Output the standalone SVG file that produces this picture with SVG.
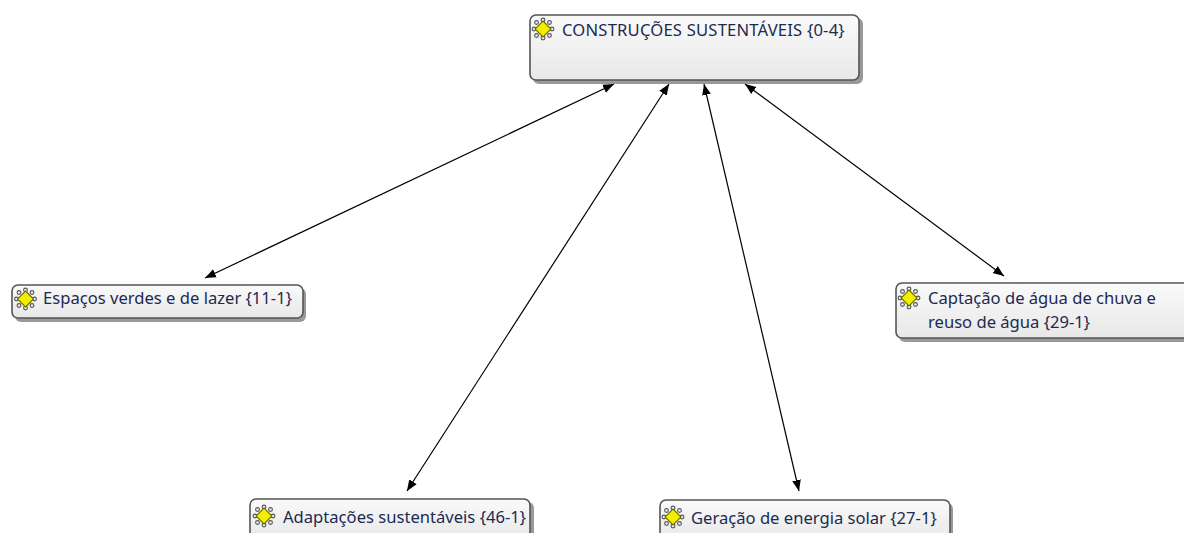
<svg xmlns="http://www.w3.org/2000/svg" width="1184" height="533" viewBox="0 0 1184 533">
<defs>
<linearGradient id="g" x1="0" y1="0" x2="0" y2="1">
<stop offset="0" stop-color="#fafafa"/>
<stop offset="1" stop-color="#e8e8e8"/>
</linearGradient>
<marker id="ah" viewBox="0 0 10 10" refX="10" refY="5" markerWidth="11" markerHeight="11" markerUnits="userSpaceOnUse" orient="auto-start-reverse">
<path d="M0,1 L10,5 L0,9 Z" fill="#000"/>
</marker>
<g id="icon">
<g fill="#eee" stroke="#555" stroke-width="1.1">
<circle cx="0" cy="-9" r="1.9"/><circle cx="0" cy="9" r="1.9"/>
<circle cx="-9" cy="0" r="1.9"/><circle cx="9" cy="0" r="1.9"/>
<circle cx="-6.5" cy="-6.5" r="1.9"/><circle cx="6.5" cy="-6.5" r="1.9"/>
<circle cx="-6.5" cy="6.5" r="1.9"/><circle cx="6.5" cy="6.5" r="1.9"/>
</g>
<path d="M0,-8 L8,0 L0,8 L-8,0 Z" fill="#f2ee00" stroke="#6f6f00" stroke-width="1.1"/>
</g>
</defs>
<style>
.box{fill:url(#g);stroke:#555;stroke-width:1.6}
.sh{fill:#777;opacity:0.75}
.t{font-family:"Noto Sans","Open Sans",sans-serif;font-size:16.6px;fill:#1c2a52}
.u{letter-spacing:0.2px}
.c{stroke:#000;stroke-width:1.2;fill:none;marker-start:url(#ah);marker-end:url(#ah)}
</style>
<rect width="1184" height="533" fill="#fff"/>
<g id="connectors">
<line class="c" x1="614" y1="84" x2="205" y2="278"/>
<line class="c" x1="669" y1="84" x2="407" y2="491"/>
<line class="c" x1="704" y1="84" x2="799" y2="491"/>
<line class="c" x1="745" y1="84" x2="1004" y2="276"/>
</g>
<g id="n0">
<rect class="sh" x="533" y="18" width="330" height="66" rx="6"/>
<rect class="box" x="530" y="15" width="329" height="65" rx="6"/>
<use href="#icon" x="543" y="29"/>
<text class="t u" x="562" y="36">CONSTRUÇÕES SUSTENTÁVEIS {0-4}</text>
</g>
<g id="n1">
<rect class="sh" x="15" y="288" width="291" height="34" rx="6"/>
<rect class="box" x="12" y="285" width="291" height="33" rx="6"/>
<use href="#icon" x="25.5" y="299"/>
<text class="t" x="43" y="304">Espaços verdes e de lazer {11-1}</text>
</g>
<g id="n2">
<rect class="sh" x="899" y="286" width="300" height="56" rx="6"/>
<rect class="box" x="896" y="283" width="300" height="55" rx="6"/>
<use href="#icon" x="909" y="298"/>
<text class="t" x="928" y="304">Captação de água de chuva e</text>
<text class="t" x="928" y="328">reuso de água {29-1}</text>
</g>
<g id="n3">
<rect class="sh" x="253" y="502" width="281" height="40" rx="6"/>
<rect class="box" x="250" y="499" width="280" height="40" rx="6"/>
<use href="#icon" x="264" y="516"/>
<text class="t" x="283" y="523">Adaptações sustentáveis {46-1}</text>
</g>
<g id="n4">
<rect class="sh" x="663" y="503" width="290" height="40" rx="6"/>
<rect class="box" x="660" y="500" width="290" height="40" rx="6"/>
<use href="#icon" x="673" y="517"/>
<text class="t" x="691" y="524">Geração de energia solar {27-1}</text>
</g>
</svg>
